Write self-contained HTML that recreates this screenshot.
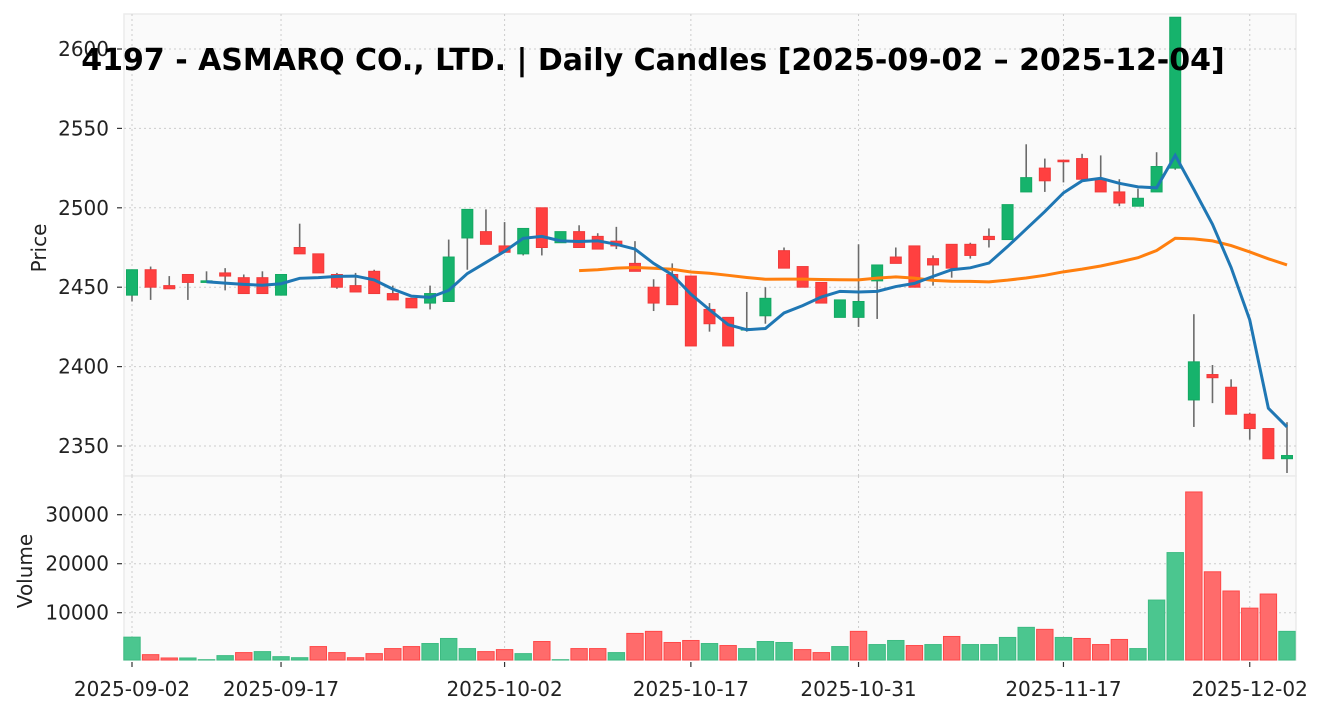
<!DOCTYPE html>
<html><head><meta charset="utf-8"><style>
body{margin:0;background:#fff;}
svg{display:block;font-family:"DejaVu Sans","Liberation Sans",sans-serif;}
</style></head><body>
<svg id="c" width="1325" height="711"></svg>
<script>
const dates=["2025-09-02","2025-09-17","2025-10-02","2025-10-17","2025-10-31","2025-11-17","2025-12-02"];
const dateIdx=[0,8,20,30,39,50,60];
const opens=[2445,2461,2451,2458,2453,2459,2456,2456,2445,2475,2471,2458,2451,2460,2446,2443,2440,2441,2481,2485,2476,2471,2500,2478,2485,2482,2479,2465,2450,2458,2457,2436,2431,2423,2432,2473,2463,2453,2431,2431,2454,2469,2476,2468,2477,2477,2482,2480,2510,2525,2530,2531,2518,2510,2501,2510,2525,2379,2395,2387,2370,2361,2342];
const highs=[2461,2463,2457,2458,2460,2462,2458,2460,2458,2490,2471,2459,2459,2461,2451,2443,2451,2480,2499,2499,2491,2487,2500,2485,2489,2484,2488,2479,2455,2465,2457,2440,2431,2447,2450,2475,2463,2453,2442,2477,2464,2475,2476,2470,2477,2478,2487,2502,2540,2531,2530,2534,2533,2518,2512,2535,2620,2433,2401,2392,2371,2361,2365];
const lows=[2441,2442,2449,2442,2453,2448,2446,2446,2445,2471,2459,2449,2447,2446,2442,2437,2436,2441,2461,2477,2472,2470,2470,2478,2475,2474,2474,2460,2435,2439,2413,2422,2413,2422,2427,2462,2450,2440,2431,2425,2430,2465,2450,2451,2456,2468,2475,2480,2510,2510,2516,2518,2510,2501,2501,2510,2524,2362,2377,2370,2354,2342,2333];
const closes=[2461,2450,2449,2453,2454,2457,2446,2446,2458,2471,2459,2450,2447,2446,2442,2437,2446,2469,2499,2477,2472,2487,2475,2485,2475,2474,2476,2460,2440,2439,2413,2427,2413,2424,2443,2462,2450,2440,2442,2441,2464,2465,2450,2464,2462,2470,2480,2502,2519,2517,2529,2518,2510,2503,2506,2526,2620,2403,2393,2370,2361,2342,2344];
const volumes=[5010,1440,760,760,410,1240,1860,2060,1030,820,3090,1860,820,1650,2680,3090,3710,4740,2680,2060,2470,1650,4120,410,2680,2680,1860,5770,6190,3920,4330,3710,3300,2680,4120,3920,2470,1860,3090,6190,3500,4330,3300,3500,5150,3500,3500,4950,7010,6600,4950,4740,3500,4540,2680,12580,22270,34640,18350,14430,10930,13810,6190];
const priceTicks=[2350,2400,2450,2500,2550,2600];
const volTicks=[10000,20000,30000];

const NS="http://www.w3.org/2000/svg";
const svg=document.getElementById('c');
function mk(t,a,p){const e=document.createElementNS(NS,t);for(const k in a)e.setAttribute(k,a[k]);(p||svg).appendChild(e);return e;}
const L=124,R=1296,PT=14,PB=476,VT=476,VB=660;
const xs=i=>132+(i)*(1287-132)/62;
const py=v=>49+(2600-v)*1.588;
const vy=v=>661.7-v*0.0049;

mk('rect',{x:L,y:PT,width:R-L,height:PB-PT,fill:'#fafafa',stroke:'#ebebeb','stroke-width':1.5,});
mk('rect',{x:L,y:VT,width:R-L,height:VB-VT,fill:'#fafafa',stroke:'#ebebeb','stroke-width':1.5,});

dateIdx.forEach(i=>{
  const g1=mk('line',{x1:xs(i),x2:xs(i),y1:PT,y2:PB,stroke:'#cccccc','stroke-dasharray':'2,3'});
  
  
  const g2=mk('line',{x1:xs(i),x2:xs(i),y1:VT,y2:VB,stroke:'#cccccc','stroke-dasharray':'2,3'});
  
  
});
priceTicks.forEach(v=>{
  const y=py(v);
  const g=mk('line',{x1:L,x2:R,y1:y,y2:y,stroke:'#cccccc','stroke-dasharray':'2,3'});
  
  
  mk('line',{x1:L-7,x2:L-2,y1:y,y2:y,stroke:'#333','stroke-width':1.2});
  const t=mk('text',{x:L-15,y:y+7,'text-anchor':'end','font-size':20,fill:'#222'});
  t.textContent=v;
  
  
});
volTicks.forEach(v=>{
  const y=vy(v);
  const g=mk('line',{x1:L,x2:R,y1:y,y2:y,stroke:'#cccccc','stroke-dasharray':'2,3'});
  
  
  mk('line',{x1:L-7,x2:L-2,y1:y,y2:y,stroke:'#333','stroke-width':1.2});
  const t=mk('text',{x:L-15,y:y+7,'text-anchor':'end','font-size':20,fill:'#222'});
  t.textContent=v;
  
  
});
dateIdx.forEach((i,k)=>{
  mk('line',{x1:xs(i),x2:xs(i),y1:VB+2,y2:VB+7,stroke:'#333','stroke-width':1.2});
  const t=mk('text',{x:xs(i),y:696,'text-anchor':'middle','font-size':20,fill:'#222'});
  t.textContent=dates[k];
  
  
});

const cg=mk('g',{});


opens.forEach((o,i)=>{
  const c=closes[i],x=xs(i),up=c>=o;
  const col=up?'#16b36c':'#ff4040';
  const w=mk('line',{x1:x,x2:x,y1:py(highs[i]),y2:py(lows[i]),stroke:'#6b6b6b','stroke-width':1.6},cg);
  
  
  const top=py(Math.max(o,c)),h=Math.max(1.5,Math.abs(py(o)-py(c)));
  const b=mk('rect',{x:x-5.5,y:top,width:11,height:h,fill:col,stroke:up?'#13a862':'#f03a3a','stroke-width':1},cg);
  
  
});
function ma(n){const r=[];for(let i=n-1;i<closes.length;i++){let s=0;for(let j=i-n+1;j<=i;j++)s+=closes[j];r.push([i,s/n]);}return r;}
const m25=mk('polyline',{points:ma(25).map(p=>xs(p[0])+','+py(p[1])).join(' '),fill:'none',stroke:'#ff7f0e','stroke-width':3});


const m5=mk('polyline',{points:ma(5).map(p=>xs(p[0])+','+py(p[1])).join(' '),fill:'none',stroke:'#1f77b4','stroke-width':3});



const vg=mk('g',{});


volumes.forEach((v,i)=>{
  const up=i===0||closes[i]>=closes[i-1];
  const y=vy(v);
  const b=mk('rect',{x:xs(i)-8.2,y:y,width:16.4,height:VB-y,fill:up?'#4bc68f':'#ff6b6b',stroke:up?'#3dbb82':'#ff4848','stroke-width':1},vg);
  
  
});

let t=mk('text',{x:653,y:70,'text-anchor':'middle','font-size':30,'font-weight':'bold',fill:'#000'});
t.textContent='4197 - ASMARQ CO., LTD. | Daily Candles [2025-09-02 – 2025-12-04]';


t=mk('text',{x:0,y:0,'text-anchor':'middle','font-size':20,fill:'#222',transform:'translate(46,248) rotate(-90)'});
t.textContent='Price';


t=mk('text',{x:0,y:0,'text-anchor':'middle','font-size':20,fill:'#222',transform:'translate(32,571) rotate(-90)'});
t.textContent='Volume';


</script>
</body></html>
